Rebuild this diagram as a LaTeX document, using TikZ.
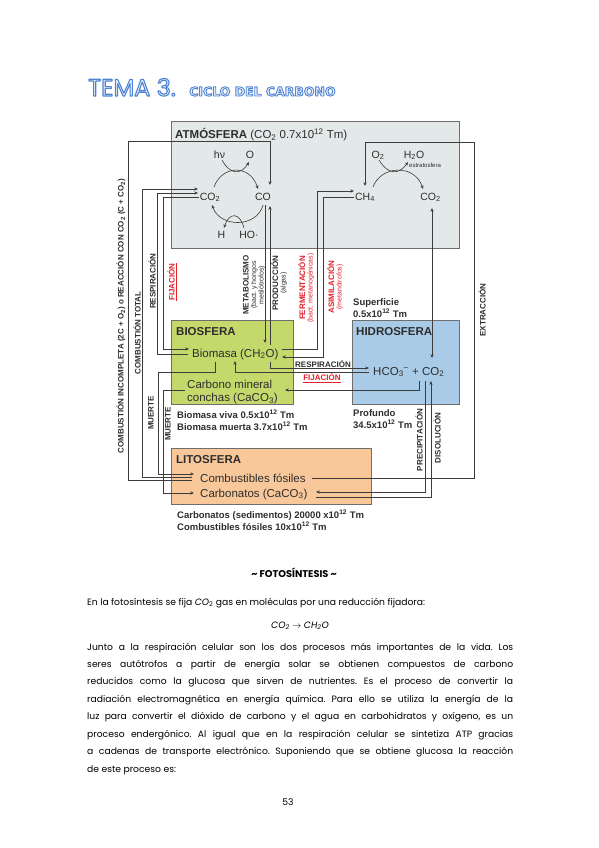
\documentclass[tikz,border=0pt]{standalone}
\usepackage{fontspec}
\setmainfont{Liberation Sans}
\newfontfamily\bodyf{Poppins}
\newfontfamily\titf{DejaVu Sans}
\usetikzlibrary{arrows.meta}
\definecolor{atmF}{HTML}{E3E8E9}
\definecolor{bioF}{HTML}{C4D86C}
\definecolor{hidF}{HTML}{A9CBE7}
\definecolor{litF}{HTML}{F8C89B}
\definecolor{bordC}{HTML}{6E6E6E}
\definecolor{lnC}{HTML}{3C3C3C}
\definecolor{txC}{HTML}{2E2E2E}
\definecolor{redC}{HTML}{E3222B}
\definecolor{tfill}{HTML}{E9F0FB}
\newcommand\outl[2][1]{{\color{tfill}\special{pdf:literal direct 0.31 0.518 0.831 RG #1 w 1 j 2 Tr}#2\special{pdf:literal direct 0 Tr}}}
\newcommand\smlab{\mdseries\fontsize{7}{7.5}\selectfont}
\frenchspacing
\begin{document}
\begin{tikzpicture}[x=1pt,y=-1pt,
  res/.style={draw=bordC, line width=0.8pt, inner sep=0pt, outer sep=0pt, anchor=north west},
  ln/.style={draw=lnC, line width=0.6pt},
  arr/.style={ln, -{Stealth[length=3.8pt,width=3.2pt]}},
  darr/.style={ln, {Stealth[length=3.8pt,width=3.2pt]}-{Stealth[length=3.8pt,width=3.2pt]}},
  btitle/.style={font=\fontsize{11.5}{13}\selectfont\bfseries, text=txC, inner sep=0pt, anchor=base west},
  chem/.style={font=\fontsize{11.5}{13}\selectfont, text=txC, inner sep=0pt, anchor=base west},
  mol/.style={font=\fontsize{10.5}{12}\selectfont, text=txC, inner sep=0pt, anchor=base},
  info/.style={font=\fontsize{9.5}{12}\selectfont\bfseries, text=txC, inner sep=0pt, anchor=base west},
  vlab/.style={font=\fontsize{8}{7.5}\selectfont\bfseries, text=txC, inner sep=0pt, rotate=90, align=center},
  rlab/.style={vlab, text=redC},
  hlab/.style={font=\fontsize{8}{9}\selectfont\bfseries, text=txC, inner sep=0pt},
  body/.style={font=\bodyf\fontsize{9.2}{11}\selectfont\frenchspacing, text=black, inner sep=0pt, anchor=base west},
]
\fill[white] (0,0) rectangle (599,848);
\useasboundingbox (0,0) rectangle (599,848);

% title
\node[anchor=base west, inner sep=0pt, font=\bodyf\fontsize{24}{26}\selectfont] (tema) at (88,96) {\outl[1.1]{TEMA 3.}};
\node[anchor=base west, inner sep=0pt, font=\titf\bfseries\fontsize{12.5}{15}\selectfont] (ciclo) at (189,96) {\outl[0.9]{CICLO DEL CARBONO}};

% reservoirs
\node[res, fill=atmF, minimum width=288pt, minimum height=127pt] (atm) at (171,121) {};
\node[res, fill=bioF, minimum width=122pt, minimum height=84pt] (bio) at (171,320) {};
\node[res, fill=hidF, minimum width=107pt, minimum height=84pt] (hid) at (352,320) {};
\node[res, fill=litF, minimum width=200pt, minimum height=56pt] (lit) at (171,448) {};

% atmosphere molecules
\node[mol] (hv) at (219.5,158) {hν};
\node[mol] (o1) at (250,158) {O};
\node[mol] (co2a) at (210,200) {CO\textsubscript{2}};
\node[mol] (co) at (263,200) {CO};
\node[mol] (h) at (221.5,238) {H};
\node[mol] (ho) at (249,238) {HO·};
\node[mol] (o2) at (378,158) {O\textsubscript{2}};
\node[mol] (h2o) at (414,158) {H\textsubscript{2}O};
\node[font=\fontsize{6}{7}\selectfont, text=txC, inner sep=0pt, anchor=base west] (estr) at (409,167) {estratosfera};
\node[mol] (ch4) at (365,200) {CH\textsubscript{4}};
\node[mol] (co2b) at (430.5,200) {CO\textsubscript{2}};

% atmosphere arcs
\draw[arr] (214,187) .. controls (222,165) and (250,164) .. (258,189);
\draw[arr] (222,160) .. controls (230,175) and (241,175) .. (249,162);
\draw[arr] (263,205) .. controls (257,228) and (220,228) .. (212,205);
\draw[arr] (244,228) .. controls (240,212) and (229,212) .. (224,228);
\draw[arr] (373,187) .. controls (381,165) and (415,164) .. (423,189);
\draw[arr] (379,160) .. controls (388,175) and (399,175) .. (408,162);

% left system
\draw[arr] (192,480) -- (128,480) -- (128,141) -- (270,141) -- (270,185);
\draw[arr] (192,477) -- (142,477) -- (142,189) -- (198,189);
\draw[arr] (215,362) -- (215,372) -- (158,372) -- (158,474) -- (194,474);
\draw[arr] (188,354) -- (157,354) -- (157,193) -- (198,193);
\draw[arr] (199,197) -- (163,197) -- (163,349) -- (189,349);
\draw[arr] (185,390) -- (163,390) -- (163,493) -- (194,493);

% middle system
\draw[arr] (265,205) -- (265,343);
\draw[arr] (270,345) -- (270,206);
\draw[arr] (270,362) -- (270,368) -- (369,368);
\draw[arr] (369,372) -- (235,372) -- (235,361);
\draw[arr] (282,349) -- (317,349) -- (317,191) -- (354,191);
\draw[arr] (354,197) -- (323,197) -- (323,357) -- (282,357);
\draw[arr] (419,381) -- (419,390) -- (285,390);
\draw[darr] (432,208) -- (432,358);
\draw[arr] (425,381) -- (425,492) -- (316,492);
\draw[arr] (316,497) -- (431,497) -- (431,381);
\draw[arr] (312,478) -- (474,478) -- (474,142) -- (365,142) -- (365,186);

% box titles and contents
\node[btitle] (atmt) at (175,139) {ATMÓSFERA {\mdseries(CO\textsubscript{2} 0.7x10\textsuperscript{12} Tm)}};
\node[btitle] (biot) at (176,335) {BIOSFERA};
\node[btitle] (hidt) at (356,335) {HIDROSFERA};
\node[btitle] (litt) at (176,463) {LITOSFERA};
\node[chem] (biom) at (192,357) {Biomasa (CH\textsubscript{2}O)};
\node[chem] (cmin1) at (187,388) {Carbono mineral};
\node[chem] (cmin2) at (187,401.5) {conchas (CaCO\textsubscript{3})};
\node[chem] (hco) at (373,375) {HCO\textsubscript{3}\textsuperscript{−} + CO\textsubscript{2}};
\node[chem] (fos) at (200,482) {Combustibles fósiles};
\node[chem] (carb) at (200,497) {Carbonatos (CaCO\textsubscript{3})};

% quantities
\node[info] (sup1) at (353,305.5) {Superficie};
\node[info] (sup2) at (353,317) {0.5x10\textsuperscript{12} Tm};
\node[info] (prof1) at (353,416.5) {Profundo};
\node[info] (prof2) at (353,428.5) {34.5x10\textsuperscript{12} Tm};
\node[info] (bv) at (177,418.5) {Biomasa viva 0.5x10\textsuperscript{12} Tm};
\node[info] (bm) at (177,430.5) {Biomasa muerta 3.7x10\textsuperscript{12} Tm};
\node[info] (cs) at (177,518.5) {Carbonatos (sedimentos) 20000 x10\textsuperscript{12} Tm};
\node[info] (cf) at (177,530) {Combustibles fósiles 10x10\textsuperscript{12} Tm};

% process labels
\node[vlab] (combinc) at (121,316) {COMBUSTIÓN INCOMPLETA (2C + O\textsubscript{2}) o REACCIÓN CON CO\textsubscript{2} (C + CO\textsubscript{2})};
\node[vlab] (combtot) at (137,333) {COMBUSTIÓN TOTAL};
\node[vlab] (respl) at (152,281) {RESPIRACIÓN};
\node[rlab] (fijl) at (172,282) {\underline{FIJACIÓN}};
\node[vlab] (muer1) at (151,413) {MUERTE};
\node[vlab] (muer2) at (168,424) {MUERTE};
\node[vlab] (metab) at (254,285) {METABOLISMO\\{\smlab(bact. y hongos}\\{\smlab metilótrofos)}};
\node[vlab] (produc) at (279,283) {PRODUCCIÓN\\{\smlab(algas)}};
\node[rlab] (ferm) at (306,288) {FERMENTACIÓN\\{\smlab(bact. metanogénicas)}};
\node[rlab] (asim) at (335,287) {ASIMILACIÓN\\{\smlab(metanótrofos)}};
\node[vlab] (precip) at (419,440) {PRECIPITACIÓN};
\node[vlab] (disol) at (437,438) {DISOLUCIÓN};
\node[vlab] (extr) at (482,310) {EXTRACCIÓN};
\node[hlab] (respr) at (323,364) {RESPIRACIÓN};
\node[hlab, text=redC] (fijr) at (322,378) {\underline{FIJACIÓN}};

% text below
\node[body, anchor=base, font=\bodyf\bfseries\fontsize{9.8}{11}\selectfont] (fot) at (294,577) {\textasciitilde{} FOTOSÍNTESIS \textasciitilde};
\node[body] (intro) at (87,605) {En la fotosíntesis se fija \textit{CO}\textsubscript{2} gas en moléculas por una reducción fijadora:};
\node[body, anchor=base] (eq) at (300,628) {\textit{CO}\textsubscript{\textit{2}} $\rightarrow$ \textit{CH}\textsubscript{\textit{2}}\textit{O}};
\node[body] (p1) at (87,650) {\makebox[426pt][s]{Junto a la respiración celular son los dos procesos más importantes de la vida. Los}};
\node[body] (p2) at (87,667.4) {\makebox[426pt][s]{seres autótrofos a partir de energía solar se obtienen compuestos de carbono}};
\node[body] (p3) at (87,684.9) {\makebox[426pt][s]{reducidos como la glucosa que sirven de nutrientes. Es el proceso de convertir la}};
\node[body] (p4) at (87,702.3) {\makebox[426pt][s]{radiación electromagnética en energía química. Para ello se utiliza la energía de la}};
\node[body] (p5) at (87,719.8) {\makebox[426pt][s]{luz para convertir el dióxido de carbono y el agua en carbohidratos y oxígeno, es un}};
\node[body] (p6) at (87,737.2) {\makebox[426pt][s]{proceso endergónico. Al igual que en la respiración celular se sintetiza ATP gracias}};
\node[body] (p7) at (87,754.7) {\makebox[426pt][s]{a cadenas de transporte electrónico. Suponiendo que se obtiene glucosa la reacción}};
\node[body] (p8) at (87,772.1) {de este proceso es:};
\node[body, anchor=base] (pg) at (288,805) {53};
\end{tikzpicture}
\end{document}
